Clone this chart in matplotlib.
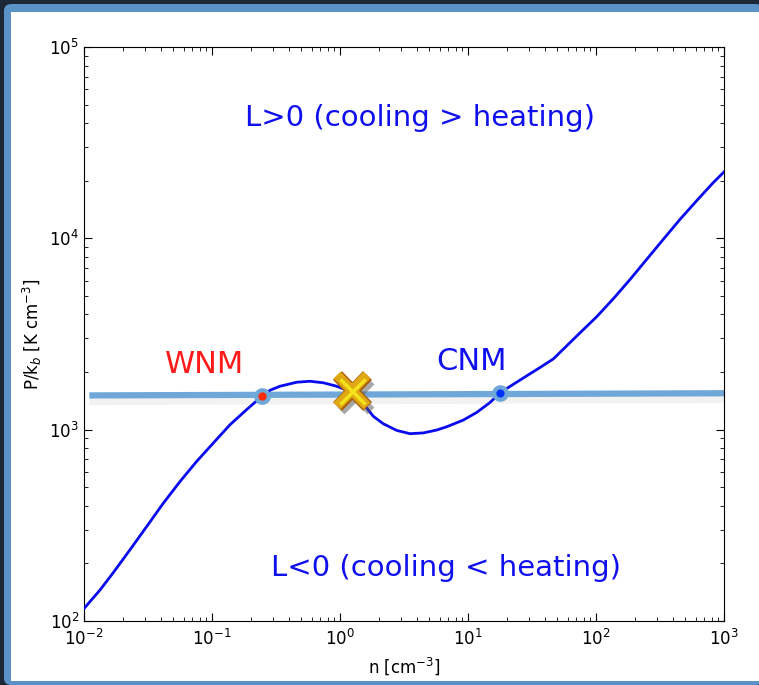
import numpy as np
import matplotlib
matplotlib.use("Agg")
import matplotlib.pyplot as plt
import matplotlib.patheffects as pe
from matplotlib.patches import FancyBboxPatch, Rectangle

# courbe d'équilibre thermique, log10 n et log10 P/k
log_n = [-2.0, -1.875, -1.771, -1.641, -1.51, -1.38, -1.25, -1.12, -0.99,
         -0.859, -0.729, -0.625, -0.547, -0.469, -0.338, -0.234, -0.13,
         -0.026, 0.052, 0.104, 0.156, 0.208, 0.26, 0.338, 0.443, 0.547,
         0.651, 0.755, 0.833, 0.963, 1.068, 1.172, 1.25, 1.328, 1.406,
         1.484, 1.575, 1.667, 1.771, 1.875, 2.005, 2.135, 2.266, 2.396,
         2.526, 2.656, 2.787, 2.917, 3.0]
log_p = [2.065, 2.162, 2.253, 2.372, 2.494, 2.616, 2.729, 2.834, 2.93,
         3.026, 3.105, 3.166, 3.206, 3.227, 3.248, 3.253, 3.245,
         3.227, 3.206, 3.192, 3.157, 3.114, 3.07, 3.031, 2.996, 2.979,
         2.983, 2.998, 3.015, 3.05, 3.09, 3.142, 3.192, 3.226, 3.259,
         3.292, 3.33, 3.37, 3.438, 3.506, 3.59, 3.684, 3.785, 3.89,
         3.995, 4.099, 4.197, 4.292, 4.347]

# pression imposée (ligne horizontale)
line_n = [0.011, 1000.0]
line_p = [1510.0, 1550.0]

# phases stables et point instable
wnm_n, wnm_p = 0.246, 1507.0
cnm_n, cnm_p = 17.8, 1563.0
unst_n, unst_p = 1.24, 1600.0

n = 10.0 ** np.array(log_n)
p = 10.0 ** np.array(log_p)

fig = plt.figure(figsize=(7.59, 6.85), dpi=100, facecolor="#1c2836")

# cadre de la diapo
fig.patches.append(FancyBboxPatch((4 / 759, 0), 1.0, 1 - 4 / 685,
                                  boxstyle="round,pad=0,rounding_size=0.01",
                                  transform=fig.transFigure, facecolor="#5b93c8",
                                  edgecolor="none", zorder=-3))
fig.patches.append(Rectangle((11 / 759, 4 / 685), 1.0, 1 - 16 / 685,
                             transform=fig.transFigure, facecolor="white",
                             edgecolor="none", zorder=-2))

ax = fig.add_axes([84 / 759, 64 / 685, 640 / 759, 574 / 685])
ax.set_facecolor("none")
ax.set_xscale("log")
ax.set_yscale("log")
ax.set_xlim(1e-2, 1e3)
ax.set_ylim(1e2, 1e5)

ax.plot(line_n, line_p, color="#6fa8d8", lw=4.5, solid_capstyle="butt", zorder=2,
        path_effects=[pe.SimpleLineShadow(offset=(0, -3), shadow_color="#999999",
                                          alpha=0.12, linewidth=8), pe.Normal()])
ax.plot(n, p, color="#0a0aee", lw=2, zorder=3, solid_joinstyle="round")

ax.plot([wnm_n], [wnm_p], marker="o", ms=9, mfc="#ff2a00", mec="#6fa8d8",
        mew=3, zorder=4)
ax.plot([cnm_n], [cnm_p], marker="o", ms=9, mfc="#0033ff", mec="#6fa8d8",
        mew=3, zorder=4)
ax.plot([unst_n], [unst_p], marker="x", ms=22, mew=7, color="#e0a814", zorder=5,
        path_effects=[pe.SimpleLineShadow(offset=(3, -4), shadow_color="#555555",
                                          alpha=0.5),
                      pe.Stroke(linewidth=9, foreground="#a8600a"),
                      pe.Normal()])
ax.plot([unst_n], [unst_p], marker="x", ms=18, mew=2.5, color="#f4e21a", zorder=6)

ax.text(0.525, 0.876, "L>0 (cooling > heating)", transform=ax.transAxes,
        ha="center", va="center", color="#1010ee", fontsize=21, family="DejaVu Sans")
ax.text(0.566, 0.092, "L<0 (cooling < heating)", transform=ax.transAxes,
        ha="center", va="center", color="#1010ee", fontsize=21, family="DejaVu Sans")
ax.text(0.189, 0.446, "WNM", transform=ax.transAxes, ha="center", va="center",
        color="#ff1a1a", fontsize=22, family="DejaVu Sans")
ax.text(0.606, 0.452, "CNM", transform=ax.transAxes, ha="center", va="center",
        color="#1010ee", fontsize=22, family="DejaVu Sans")

ax.tick_params(which="both", direction="in", top=True, right=True, labelsize=12)
ax.tick_params(axis="x", pad=6)
ax.tick_params(which="major", length=6)
ax.tick_params(which="minor", length=3)
ax.set_xlabel(r"n [cm$^{-3}$]", fontsize=12)
ax.set_ylabel(r"P/k$_b$ [K cm$^{-3}$]", fontsize=12)

fig.savefig("out.png", dpi=100, facecolor=fig.get_facecolor())
